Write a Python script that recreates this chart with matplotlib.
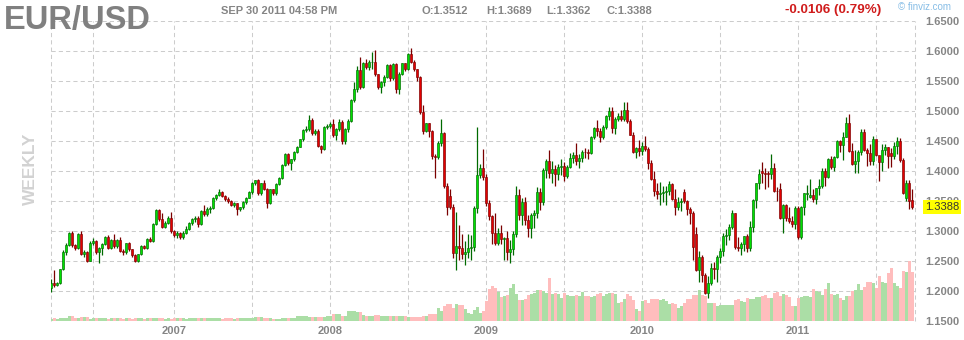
import matplotlib
matplotlib.use("Agg")
import matplotlib.pyplot as plt
import matplotlib.transforms as mtrans
import numpy as np
import pandas as pd

plt.rcParams["font.family"] = ["Liberation Sans", "DejaVu Sans"]

# --- Weekly EUR/USD candles (week starting Sunday) ---
week_start = "2006-03-26"

opens = [
    1.2040, 1.2122, 1.2094, 1.2122, 1.2356, 1.2644, 1.2761, 1.2956, 1.2761, 1.2720,
    1.2940, 1.2611, 1.2650, 1.2500, 1.2800, 1.2822, 1.2639, 1.2706, 1.2772, 1.2889,
    1.2706, 1.2839, 1.2744, 1.2839, 1.2667, 1.2639, 1.2789, 1.2689, 1.2594, 1.2500,
    1.2606, 1.2750, 1.2706, 1.2861, 1.2828, 1.3106, 1.3344, 1.3189, 1.3067, 1.3133,
    1.3206, 1.2994, 1.2922, 1.2967, 1.2900, 1.2967, 1.3033, 1.3133, 1.3189, 1.3217,
    1.3106, 1.3328, 1.3272, 1.3356, 1.3383, 1.3539, 1.3594, 1.3650, 1.3583, 1.3522,
    1.3494, 1.3428, 1.3456, 1.3356, 1.3389, 1.3472, 1.3550, 1.3639, 1.3789, 1.3844,
    1.3622, 1.3789, 1.3700, 1.3467, 1.3689, 1.3622, 1.3772, 1.3883, 1.4094, 1.4278,
    1.4122, 1.4189, 1.4317, 1.4400, 1.4522, 1.4678, 1.4689, 1.4844, 1.4622, 1.4656,
    1.4417, 1.4361, 1.4722, 1.4750, 1.4778, 1.4594, 1.4689, 1.4817, 1.4494, 1.4689,
    1.4828, 1.5178, 1.5356, 1.5678, 1.5400, 1.5789, 1.5722, 1.5806, 1.5817, 1.5606,
    1.5400, 1.5483, 1.5567, 1.5761, 1.5539, 1.5772, 1.5356, 1.5606, 1.5789, 1.5689,
    1.5939, 1.5817, 1.5689, 1.5567, 1.4983, 1.4667, 1.4789, 1.4661, 1.4244, 1.4222,
    1.4467, 1.4622, 1.3750, 1.3580, 1.3400, 1.2622, 1.2744, 1.2706, 1.2606, 1.2650,
    1.2706, 1.2728, 1.3372, 1.3928, 1.4039, 1.3900, 1.3467, 1.3250, 1.2967, 1.2800,
    1.2956, 1.2856, 1.2880, 1.2639, 1.2700, 1.2939, 1.3594, 1.3261, 1.3478, 1.3178,
    1.3044, 1.3267, 1.3294, 1.3639, 1.3472, 1.4011, 1.4161, 1.3967, 1.4028, 1.3939,
    1.4061, 1.4078, 1.3917, 1.4061, 1.4206, 1.4261, 1.4156, 1.4206, 1.4317, 1.4306,
    1.4290, 1.4567, 1.4706, 1.4667, 1.4561, 1.4733, 1.4906, 1.5000, 1.4706, 1.4856,
    1.4911, 1.4870, 1.5011, 1.4833, 1.4600, 1.4317, 1.4372, 1.4330, 1.4411, 1.4361,
    1.4122, 1.3856, 1.3667, 1.3611, 1.3622, 1.3650, 1.3660, 1.3778, 1.3522, 1.3400,
    1.3483, 1.3639, 1.3500, 1.3361, 1.3289, 1.2944, 1.2344, 1.2567, 1.2261, 1.1956,
    1.2122, 1.2383, 1.2356, 1.2567, 1.2656, 1.2917, 1.2930, 1.3056, 1.3289, 1.2733,
    1.2717, 1.2772, 1.2911, 1.2717, 1.3056, 1.3511, 1.3789, 1.3990, 1.3956, 1.3960,
    1.3944, 1.4039, 1.3667, 1.3700, 1.3217, 1.3422, 1.3217, 1.3167, 1.3106, 1.3372,
    1.2900, 1.3389, 1.3605, 1.3560, 1.3590, 1.3522, 1.3706, 1.3750, 1.3994, 1.3889,
    1.4189, 1.4067, 1.4233, 1.4494, 1.4428, 1.4567, 1.4800, 1.4330, 1.4106, 1.4161,
    1.4317, 1.4639, 1.4344, 1.4289, 1.4167, 1.4522, 1.4261, 1.4139, 1.4344, 1.4400,
    1.4300, 1.4244, 1.4411, 1.4500, 1.4178, 1.3550, 1.3800, 1.3512,
]

highs = [
    1.2200, 1.2345, 1.2140, 1.2370, 1.2680, 1.2790, 1.2985, 1.2990, 1.2780, 1.2965,
    1.2990, 1.2680, 1.2660, 1.2830, 1.2880, 1.2840, 1.2730, 1.2800, 1.2920, 1.2930,
    1.2870, 1.2939, 1.2870, 1.2890, 1.2700, 1.2800, 1.2820, 1.2700, 1.2610, 1.2620,
    1.2770, 1.2770, 1.2880, 1.2900, 1.3130, 1.3370, 1.3367, 1.3300, 1.3160, 1.3240,
    1.3317, 1.3010, 1.2990, 1.2980, 1.2990, 1.3080, 1.3150, 1.3210, 1.3250, 1.3240,
    1.3350, 1.3428, 1.3400, 1.3420, 1.3560, 1.3620, 1.3694, 1.3670, 1.3600, 1.3560,
    1.3520, 1.3480, 1.3470, 1.3400, 1.3490, 1.3570, 1.3660, 1.3810, 1.3850, 1.3860,
    1.3800, 1.3850, 1.3720, 1.3700, 1.3700, 1.3790, 1.3900, 1.4110, 1.4290, 1.4300,
    1.4200, 1.4330, 1.4420, 1.4530, 1.4700, 1.4750, 1.4928, 1.4880, 1.4690, 1.4690,
    1.4430, 1.4740, 1.4780, 1.4810, 1.4867, 1.4720, 1.4870, 1.4850, 1.4710, 1.4870,
    1.5190, 1.5480, 1.5740, 1.5900, 1.5820, 1.5860, 1.5850, 1.5983, 1.6019, 1.5620,
    1.5500, 1.5590, 1.5780, 1.5780, 1.5790, 1.5790, 1.5640, 1.5800, 1.5800, 1.5970,
    1.6038, 1.5840, 1.5700, 1.5580, 1.5090, 1.4800, 1.4800, 1.4680, 1.4280, 1.4500,
    1.4870, 1.4650, 1.3790, 1.3690, 1.3450, 1.3306, 1.3100, 1.2950, 1.2830, 1.2950,
    1.2930, 1.3410, 1.4733, 1.4120, 1.4370, 1.3950, 1.3520, 1.3260, 1.3300, 1.3050,
    1.3094, 1.2900, 1.3000, 1.2850, 1.2990, 1.3744, 1.3690, 1.3540, 1.3560, 1.3270,
    1.3300, 1.3340, 1.3730, 1.3720, 1.4050, 1.4190, 1.4344, 1.4170, 1.4100, 1.4110,
    1.4190, 1.4140, 1.4100, 1.4300, 1.4310, 1.4456, 1.4280, 1.4350, 1.4380, 1.4370,
    1.4580, 1.4730, 1.4844, 1.4720, 1.4760, 1.4930, 1.5067, 1.5060, 1.4890, 1.4960,
    1.5010, 1.5140, 1.5145, 1.4860, 1.4640, 1.4390, 1.4520, 1.4480, 1.4578, 1.4390,
    1.4180, 1.4000, 1.3790, 1.3820, 1.3740, 1.3750, 1.3833, 1.3800, 1.3690, 1.3560,
    1.3550, 1.3690, 1.3520, 1.3390, 1.3330, 1.3070, 1.2670, 1.2600, 1.2300, 1.2250,
    1.2470, 1.2480, 1.2600, 1.2720, 1.2960, 1.3030, 1.3120, 1.3344, 1.3300, 1.2900,
    1.2810, 1.2920, 1.2950, 1.3160, 1.3530, 1.3790, 1.4030, 1.4150, 1.4040, 1.4000,
    1.4280, 1.4130, 1.3730, 1.3790, 1.3440, 1.3440, 1.3400, 1.3250, 1.3420, 1.3420,
    1.3420, 1.3633, 1.3760, 1.3860, 1.3700, 1.3720, 1.3860, 1.4040, 1.4040, 1.4220,
    1.4250, 1.4250, 1.4510, 1.4520, 1.4650, 1.4889, 1.4944, 1.4460, 1.4350, 1.4340,
    1.4700, 1.4700, 1.4380, 1.4450, 1.4580, 1.4520, 1.4250, 1.4450, 1.4450, 1.4400,
    1.4380, 1.4480, 1.4556, 1.4550, 1.4220, 1.3840, 1.3850, 1.3689,
]

lows = [
    1.1983, 1.2067, 1.2080, 1.2110, 1.2340, 1.2600, 1.2740, 1.2730, 1.2680, 1.2700,
    1.2595, 1.2570, 1.2480, 1.2490, 1.2770, 1.2610, 1.2467, 1.2600, 1.2760, 1.2690,
    1.2690, 1.2720, 1.2720, 1.2650, 1.2600, 1.2620, 1.2670, 1.2560, 1.2480, 1.2485,
    1.2590, 1.2690, 1.2690, 1.2810, 1.2820, 1.3090, 1.3160, 1.3050, 1.3040, 1.3120,
    1.2960, 1.2890, 1.2880, 1.2870, 1.2870, 1.2950, 1.3020, 1.3100, 1.3150, 1.3067,
    1.3100, 1.3250, 1.3250, 1.3300, 1.3370, 1.3520, 1.3580, 1.3560, 1.3500, 1.3470,
    1.3410, 1.3400, 1.3261, 1.3330, 1.3370, 1.3450, 1.3540, 1.3620, 1.3770, 1.3600,
    1.3600, 1.3680, 1.3372, 1.3440, 1.3600, 1.3600, 1.3760, 1.3870, 1.4080, 1.4100,
    1.4020, 1.4170, 1.4300, 1.4390, 1.4500, 1.4650, 1.4660, 1.4600, 1.4590, 1.4400,
    1.4294, 1.4350, 1.4700, 1.4720, 1.4570, 1.4520, 1.4660, 1.4440, 1.4450, 1.4650,
    1.4810, 1.5150, 1.5320, 1.5370, 1.5380, 1.5700, 1.5680, 1.5700, 1.5580, 1.5370,
    1.5300, 1.5420, 1.5550, 1.5500, 1.5510, 1.5300, 1.5280, 1.5600, 1.5660, 1.5680,
    1.5800, 1.5660, 1.5500, 1.4950, 1.4620, 1.4640, 1.4567, 1.4200, 1.3883, 1.4200,
    1.4420, 1.3720, 1.3260, 1.3360, 1.2550, 1.2344, 1.2520, 1.2530, 1.2430, 1.2550,
    1.2520, 1.2660, 1.3300, 1.3880, 1.3840, 1.3420, 1.3180, 1.2772, 1.2760, 1.2770,
    1.2780, 1.2511, 1.2520, 1.2460, 1.2600, 1.2890, 1.3180, 1.3100, 1.3100, 1.2890,
    1.2880, 1.3040, 1.3220, 1.3350, 1.3430, 1.3880, 1.3880, 1.3800, 1.3740, 1.3850,
    1.3930, 1.3828, 1.3880, 1.4040, 1.4130, 1.4100, 1.4050, 1.4150, 1.4210, 1.4200,
    1.4280, 1.4530, 1.4580, 1.4483, 1.4530, 1.4700, 1.4850, 1.4630, 1.4620, 1.4830,
    1.4830, 1.4830, 1.4790, 1.4590, 1.4300, 1.4206, 1.4250, 1.4260, 1.4330, 1.4030,
    1.3850, 1.3580, 1.3530, 1.3428, 1.3480, 1.3430, 1.3590, 1.3510, 1.3270, 1.3340,
    1.3330, 1.3460, 1.3260, 1.3120, 1.2520, 1.2330, 1.2140, 1.2150, 1.1950, 1.1876,
    1.2100, 1.2200, 1.2150, 1.2470, 1.2580, 1.2760, 1.2840, 1.3030, 1.2700, 1.2660,
    1.2590, 1.2660, 1.2640, 1.2660, 1.2980, 1.3380, 1.3690, 1.3800, 1.3700, 1.3733,
    1.3870, 1.3640, 1.3500, 1.3200, 1.2967, 1.3170, 1.3130, 1.3060, 1.3030, 1.2870,
    1.2860, 1.3261, 1.3510, 1.3550, 1.3480, 1.3440, 1.3590, 1.3710, 1.3750, 1.3880,
    1.4030, 1.4000, 1.4220, 1.4320, 1.4180, 1.4560, 1.4310, 1.4100, 1.3970, 1.3970,
    1.4260, 1.4330, 1.4080, 1.4100, 1.4100, 1.4240, 1.3828, 1.4000, 1.4260, 1.4040,
    1.4060, 1.4200, 1.4280, 1.4140, 1.3620, 1.3500, 1.3360, 1.3362,
]

closes = [
    1.2122, 1.2094, 1.2122, 1.2356, 1.2644, 1.2761, 1.2956, 1.2761, 1.2720, 1.2940,
    1.2611, 1.2650, 1.2500, 1.2800, 1.2822, 1.2639, 1.2706, 1.2772, 1.2889, 1.2706,
    1.2839, 1.2744, 1.2839, 1.2667, 1.2639, 1.2789, 1.2689, 1.2594, 1.2500, 1.2606,
    1.2750, 1.2706, 1.2861, 1.2828, 1.3106, 1.3344, 1.3189, 1.3067, 1.3133, 1.3206,
    1.2994, 1.2922, 1.2967, 1.2900, 1.2967, 1.3033, 1.3133, 1.3189, 1.3217, 1.3106,
    1.3328, 1.3272, 1.3356, 1.3383, 1.3539, 1.3594, 1.3650, 1.3583, 1.3522, 1.3494,
    1.3428, 1.3456, 1.3356, 1.3389, 1.3472, 1.3550, 1.3639, 1.3789, 1.3844, 1.3622,
    1.3789, 1.3700, 1.3467, 1.3689, 1.3622, 1.3772, 1.3883, 1.4094, 1.4278, 1.4122,
    1.4189, 1.4317, 1.4400, 1.4522, 1.4678, 1.4689, 1.4844, 1.4622, 1.4656, 1.4417,
    1.4361, 1.4722, 1.4750, 1.4778, 1.4594, 1.4689, 1.4817, 1.4494, 1.4689, 1.4828,
    1.5178, 1.5356, 1.5678, 1.5400, 1.5789, 1.5722, 1.5806, 1.5817, 1.5606, 1.5400,
    1.5483, 1.5567, 1.5761, 1.5539, 1.5772, 1.5356, 1.5606, 1.5789, 1.5689, 1.5939,
    1.5817, 1.5689, 1.5567, 1.4983, 1.4667, 1.4789, 1.4661, 1.4244, 1.4222, 1.4467,
    1.4622, 1.3750, 1.3389, 1.3400, 1.2622, 1.2744, 1.2706, 1.2606, 1.2650, 1.2706,
    1.2728, 1.3372, 1.3928, 1.4039, 1.3900, 1.3467, 1.3250, 1.2967, 1.2800, 1.2956,
    1.2856, 1.2880, 1.2639, 1.2700, 1.2939, 1.3594, 1.3261, 1.3478, 1.3178, 1.3044,
    1.3267, 1.3294, 1.3639, 1.3472, 1.4011, 1.4161, 1.3967, 1.4028, 1.3939, 1.4061,
    1.4078, 1.3917, 1.4061, 1.4206, 1.4261, 1.4156, 1.4206, 1.4317, 1.4306, 1.4290,
    1.4567, 1.4706, 1.4667, 1.4561, 1.4733, 1.4906, 1.5000, 1.4706, 1.4856, 1.4911,
    1.4870, 1.5011, 1.4833, 1.4600, 1.4317, 1.4372, 1.4330, 1.4411, 1.4361, 1.4122,
    1.3856, 1.3667, 1.3611, 1.3622, 1.3650, 1.3660, 1.3778, 1.3522, 1.3400, 1.3483,
    1.3500, 1.3500, 1.3361, 1.3289, 1.2733, 1.2344, 1.2567, 1.2261, 1.1956, 1.2122,
    1.2383, 1.2356, 1.2567, 1.2656, 1.2917, 1.2930, 1.3056, 1.3289, 1.2733, 1.2717,
    1.2772, 1.2911, 1.2717, 1.3056, 1.3511, 1.3789, 1.3939, 1.3956, 1.3939, 1.3944,
    1.4039, 1.3667, 1.3661, 1.3217, 1.3422, 1.3217, 1.3167, 1.3106, 1.3372, 1.2900,
    1.3389, 1.3622, 1.3628, 1.3590, 1.3522, 1.3706, 1.3750, 1.3994, 1.3889, 1.4189,
    1.4067, 1.4233, 1.4494, 1.4428, 1.4567, 1.4800, 1.4330, 1.4106, 1.4161, 1.4317,
    1.4639, 1.4344, 1.4289, 1.4167, 1.4522, 1.4261, 1.4139, 1.4344, 1.4400, 1.4250,
    1.4244, 1.4411, 1.4500, 1.4178, 1.3633, 1.3800, 1.3494, 1.3388,
]

# volume, in the chart's own (unlabelled) units
volumes = [
    2, 3, 2, 3, 3, 3, 5, 5, 3, 3,
    4, 4, 4, 2, 3, 3, 3, 3, 3, 2,
    3, 3, 3, 3, 2, 3, 3, 2, 3, 3,
    3, 2, 3, 3, 3, 3, 3, 3, 2, 3,
    2, 3, 3, 3, 3, 2, 3, 3, 3, 3,
    3, 3, 3, 3, 3, 3, 3, 2, 3, 3,
    3, 2, 3, 3, 3, 3, 3, 3, 4, 4,
    4, 3, 3, 3, 2, 2, 2, 3, 3, 3,
    3, 3, 5, 5, 5, 5, 4, 4, 4, 4,
    4, 4, 5, 5, 7, 7, 7, 5, 5, 10,
    10, 10, 9, 9, 6, 5, 5, 5, 6, 6,
    5, 5, 5, 5, 5, 5, 5, 5, 5, 4,
    4, 4, 4, 4, 5, 5, 7, 7, 7, 13,
    10, 15, 17, 17, 13, 17, 16, 16, 12, 8,
    7, 11, 14, 8, 10, 20, 32, 35, 33, 29,
    24, 25, 26, 33, 37, 27, 21, 21, 22, 26,
    27, 28, 31, 31, 30, 28, 43, 27, 28, 27,
    23, 28, 26, 25, 25, 26, 25, 29, 25, 25,
    24, 25, 27, 28, 25, 27, 28, 28, 27, 18,
    19, 22, 27, 25, 21, 12, 10, 20, 21, 18,
    22, 22, 22, 21, 22, 20, 17, 18, 17, 13,
    15, 18, 22, 22, 26, 26, 31, 26, 25, 18,
    18, 18, 15, 16, 16, 16, 16, 16, 21, 22,
    20, 19, 23, 22, 22, 24, 24, 25, 26, 23,
    23, 28, 29, 25, 27, 26, 24, 15, 15, 23,
    24, 25, 25, 24, 32, 30, 29, 26, 32, 38,
    27, 26, 27, 23, 21, 25, 25, 30, 31, 37,
    31, 34, 39, 39, 38, 33, 45, 39, 38, 48,
    53, 38, 35, 33, 50, 49, 60, 49,
]

price_ticks = [1.15, 1.20, 1.25, 1.30, 1.35, 1.40, 1.45, 1.50, 1.55, 1.60, 1.65]

symbol = "EUR/USD"
stamp = "SEP 30 2011 04:58 PM"
timeframe = "WEEKLY"

# --- colours ---
UP_FILL, UP_EDGE = "#00e000", "#006a00"
DN_FILL, DN_EDGE = "#e30000", "#7a0000"
VOL_UP, VOL_DN = "#abdea6", "#ffbdbd"
GRID = "#cccccc"
GREY = "#858585"

W, H = 964, 340


def fx(px):
    return px / W


def fy(py):
    return 1 - py / H


o = np.array(opens)
hi = np.array(highs)
lo = np.array(lows)
c = np.array(closes)
v = np.array(volumes)
n = len(c)
x = np.arange(n)
up = c >= o

weeks = pd.date_range(week_start, periods=n, freq="7D")

# grid columns: first week that starts after the 1st of January / July
year_pos, year_lab, half_pos = [], [], []
for i in range(1, n):
    d, p = weeks[i], weeks[i - 1]
    if d.month in (1, 7) and d.day > 1 and (p.month != d.month or p.day == 1):
        if d.month == 1:
            year_pos.append(i)
            year_lab.append(str(d.year))
        else:
            half_pos.append(i)

fig = plt.figure(figsize=(W / 100, H / 100), dpi=100)
fig.patch.set_facecolor("white")
ax = fig.add_axes([fx(50.5), 19.3 / H, 864 / W, 300 / H])
ax.set_facecolor("white")
for s in ax.spines.values():
    s.set_visible(False)

y0, y1 = price_ticks[0], price_ticks[-1]
ax.set_xlim(-0.2, n - 0.2)
ax.set_ylim(y0, y1)

# --- grid ---
dash = (0, (4, 3))
ax.set_xticks(year_pos)
ax.set_xticklabels(year_lab)
ax.set_xticks(half_pos, minor=True)
ax.set_yticks(price_ticks)
ax.set_yticklabels([f"{t:.4f}" for t in price_ticks])
ax.grid(True, which="both", color=GRID, linestyle=dash, linewidth=0.75, zorder=0)
for edge in ax.get_xlim():
    ax.axvline(edge, color=GRID, linestyle=dash, linewidth=0.75, clip_on=False, zorder=0)
ax.set_axisbelow(True)

# --- volume along the bottom ---
vol_unit = (y1 - y0) / 300
ax.bar(x, v * vol_unit, bottom=y0, width=1.0,
       color=np.where(up, VOL_UP, VOL_DN), linewidth=0, zorder=1)

# --- candles ---
ax.vlines(x, lo, hi, colors=np.where(up, UP_EDGE, DN_EDGE), linewidth=0.9, zorder=2)
body_lo = np.minimum(o, c)
body_h = np.maximum(np.abs(c - o), 0.0006)
ax.bar(x, body_h, bottom=body_lo, width=0.82,
       color=np.where(up, UP_FILL, DN_FILL),
       edgecolor=np.where(up, UP_EDGE, DN_EDGE), linewidth=0.45, zorder=3)

# --- tick styling ---
ax.yaxis.tick_right()
ax.tick_params(axis="y", length=0, pad=7.5, labelsize=8, labelcolor=GREY)
ax.tick_params(axis="x", which="both", length=0, pad=3.5, labelsize=8, labelcolor=GREY)
for lab in ax.get_yticklabels() + ax.get_xticklabels():
    lab.set_fontweight("bold")

# last price tag (sits over the 1.3500 label, as on the site)
tag_tr = mtrans.blended_transform_factory(ax.transAxes, ax.transData)
ax.text((925 - 50.5) / 864, c[-1], f"{c[-1]:.4f}", transform=tag_tr,
        ha="left", va="center", fontsize=8, color="#333333", zorder=10,
        bbox=dict(boxstyle="square,pad=0.18", fc="#ffff00", ec="none"))

# --- header ---
fig.text(fx(4), fy(28.5), symbol, fontsize=23.5, fontweight="bold",
         color="#808080", ha="left", va="baseline")
fig.text(fx(221), fy(11), stamp, fontsize=8, fontweight="bold",
         color=GREY, ha="left", va="center")
quote = [("O", o[-1], 421.5), ("H", hi[-1], 486.5), ("L", lo[-1], 546.5), ("C", c[-1], 606.5)]
for key, val, px in quote:
    fig.text(fx(px), fy(11), f"{key}:{val:.4f}", fontsize=8, fontweight="bold",
             color=GREY, ha="left", va="center")
chg = c[-1] - c[-2]
pct = abs(chg) / c[-2] * 100
fig.text(fx(785), fy(10.5), f"{chg:+.4f} ({pct:.2f}%)", fontsize=9.7,
         fontweight="bold", color="#d01c1c", ha="left", va="center")
fig.text(fx(898), fy(7.5), "\u00a9 finviz.com", fontsize=7, color="#86bde6",
         ha="left", va="center")
fig.text(fx(30.5), fy(169), timeframe, fontsize=12.5, fontweight="bold",
         color="#d2d2d2", rotation=90, ha="center", va="center")

fig.savefig("out.png", dpi=100)
